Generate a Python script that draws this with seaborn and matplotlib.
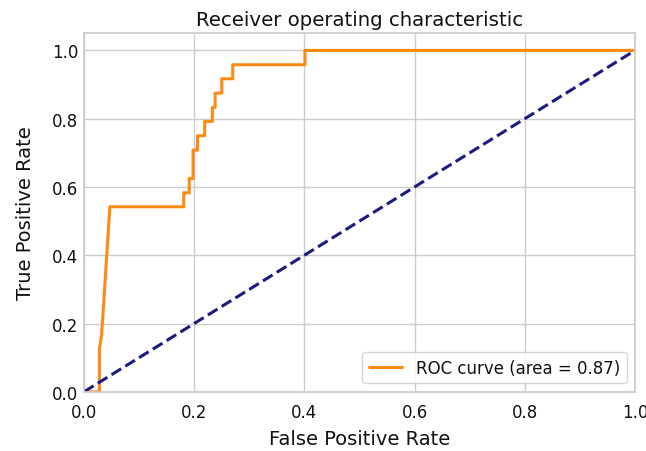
import numpy as np
import pandas as pd
import matplotlib
matplotlib.use("Agg")
import matplotlib.pyplot as plt
import seaborn as sns

# ROC curve points
fpr = [0.0, 0.028, 0.028, 0.032, 0.047, 0.181, 0.181, 0.191, 0.191, 0.198, 0.198,
       0.206, 0.206, 0.219, 0.219, 0.233, 0.233, 0.238, 0.238, 0.250, 0.250,
       0.270, 0.270, 0.401, 0.401, 1.0]
tpr = [0.0, 0.0, 0.125, 0.167, 0.542, 0.542, 0.583, 0.583, 0.625, 0.625, 0.708,
       0.708, 0.750, 0.750, 0.792, 0.792, 0.833, 0.833, 0.875, 0.875, 0.917,
       0.917, 0.958, 0.958, 1.0, 1.0]
chance_x = [0.0, 1.0]
chance_y = [0.0, 1.0]
roc_auc = 0.87
xticks = [0.0, 0.2, 0.4, 0.6, 0.8, 1.0]
yticks = [0.0, 0.2, 0.4, 0.6, 0.8, 1.0]

sns.set_theme(style="whitegrid")
plt.rcParams['font.family'] = ['DejaVu Sans']
plt.rcParams['text.color'] = '#111111'
plt.rcParams['axes.labelcolor'] = '#111111'
plt.rcParams['xtick.color'] = '#111111'
plt.rcParams['ytick.color'] = '#111111'

fig = plt.figure(figsize=(6.46, 4.52), dpi=100)
ax = fig.add_axes([0.130, 0.131, 0.853, 0.793])

sns.lineplot(x=fpr, y=tpr, ax=ax, color="#ff8a12", lw=2.2, sort=False,
             estimator=None, label="ROC curve (area = %0.2f)" % roc_auc)
sns.lineplot(x=chance_x, y=chance_y, ax=ax, color="#1c1c80", lw=2.2,
             estimator=None, sort=False)
ax.lines[1].set_linestyle((0, (3.7, 1.6)))

ax.set_xlim(0.0, 1.0)
ax.set_ylim(0.0, 1.05)
ax.set_xticks(xticks)
ax.set_yticks(yticks)
ax.tick_params(axis='x', labelsize=12, pad=8, length=0)
ax.tick_params(axis='y', labelsize=12, pad=4, length=0)
ax.set_xlabel("False Positive Rate", fontsize=14, labelpad=6)
ax.set_ylabel("True Positive Rate", fontsize=14, labelpad=12)
ax.set_title("Receiver operating characteristic", fontsize=14.2, pad=6)
ax.legend(loc="lower right", fontsize=12, frameon=True)
for s in ax.spines.values():
    s.set_color("#cccccc")

fig.savefig("out.png", dpi=100)
